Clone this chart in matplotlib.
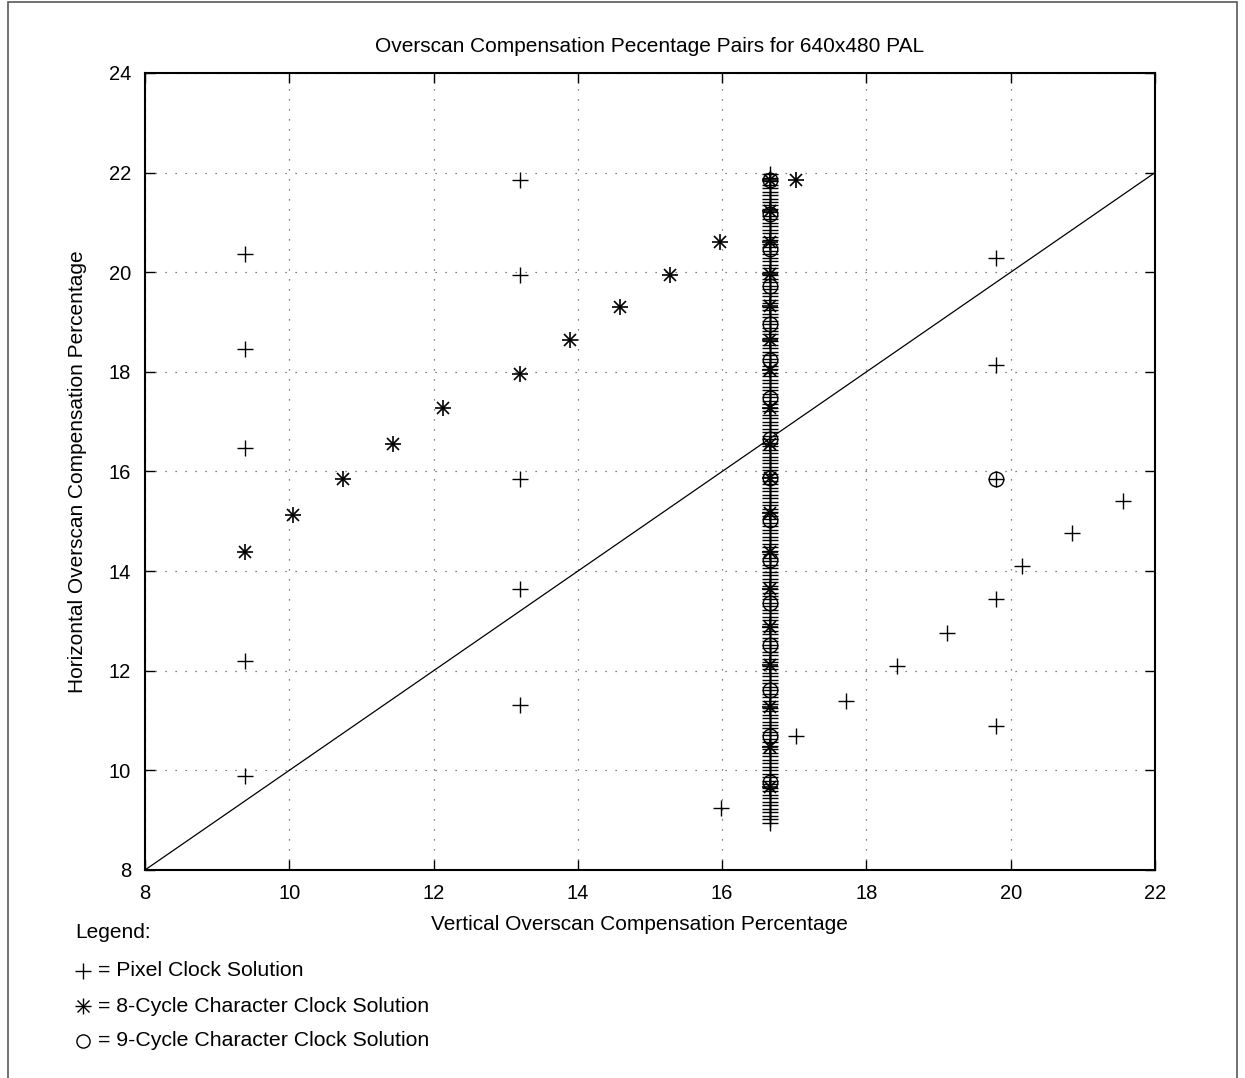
import matplotlib.pyplot as plt
from matplotlib.lines import Line2D
from matplotlib.patches import Rectangle

plt.rcParams['font.family'] = ['Liberation Sans', 'DejaVu Sans']

# pixel clock solutions (vertical %, horizontal %)
pix_x = [9.38, 9.38, 9.38, 9.38, 9.38,
         13.2, 13.2, 13.2, 13.2, 13.2,
         19.8, 19.8, 19.8, 19.8, 19.8,
         15.99, 17.03, 17.72, 18.42, 19.11, 20.15, 20.85, 21.55]
pix_y = [20.36, 18.46, 16.47, 12.19, 9.88,
         21.85, 19.94, 15.85, 13.64, 11.31,
         20.29, 18.13, 15.85, 13.44, 10.89,
         9.25, 10.69, 11.40, 12.10, 12.76, 14.11, 14.76, 15.40]

# pixel clock column at 16.67 % vertical
col_x = 16.67
col_pix_y = [
    8.95, 9.02, 9.09, 9.16, 9.23, 9.30, 9.37, 9.44, 9.51, 9.58,
    9.65, 9.72, 9.79, 9.86, 9.93, 10.00, 10.07, 10.14, 10.21, 10.28,
    10.35, 10.42, 10.49, 10.56, 10.63, 10.70, 10.77, 10.84, 10.91, 10.98,
    11.05, 11.12, 11.19, 11.26, 11.33, 11.40, 11.47, 11.54, 11.61, 11.68,
    11.75, 11.82, 11.89, 11.96, 12.03, 12.10, 12.17, 12.24, 12.31, 12.38,
    12.45, 12.52, 12.59, 12.66, 12.73, 12.80, 12.87, 12.94, 13.01, 13.08,
    13.15, 13.22, 13.29, 13.36, 13.43, 13.50, 13.57, 13.64, 13.71, 13.78,
    13.85, 13.92, 13.99, 14.06, 14.13, 14.20, 14.27, 14.34, 14.41, 14.48,
    14.55, 14.62, 14.69, 14.76, 14.83, 14.90, 14.97, 15.04, 15.11, 15.18,
    15.25, 15.32, 15.39, 15.46, 15.53, 15.60, 15.67, 15.74, 15.81, 15.88,
    15.95, 16.02, 16.09, 16.16, 16.23, 16.30, 16.37, 16.44, 16.51, 16.58,
    16.65, 16.72, 16.79, 16.86, 16.93, 17.00, 17.07, 17.14, 17.21, 17.28,
    17.35, 17.42, 17.49, 17.56, 17.63, 17.70, 17.77, 17.84, 17.91, 17.98,
    18.05, 18.12, 18.19, 18.26, 18.33, 18.40, 18.47, 18.54, 18.61, 18.68,
    18.75, 18.82, 18.89, 18.96, 19.03, 19.10, 19.17, 19.24, 19.31, 19.38,
    19.45, 19.52, 19.59, 19.66, 19.73, 19.80, 19.87, 19.94, 20.01, 20.08,
    20.15, 20.22, 20.29, 20.36, 20.43, 20.50, 20.57, 20.64, 20.71, 20.78,
    20.85, 20.92, 20.99, 21.06, 21.13, 21.20, 21.27, 21.34, 21.41, 21.48,
    21.55, 21.62, 21.69, 21.76, 21.83, 21.90, 21.97]

# 8-cycle character clock solutions
c8_x = [9.38, 10.05, 10.75, 11.44, 12.13, 13.2, 13.89, 14.58, 15.28, 15.97, 17.03]
c8_y = [14.38, 15.12, 15.85, 16.56, 17.27, 17.96, 18.63, 19.30, 19.95, 20.60, 21.85]
col_c8_y = [21.85, 21.23, 20.60, 19.97, 19.33, 18.63, 18.03, 17.28, 16.56,
            15.86, 15.16, 14.38, 13.65, 12.87, 12.11, 11.27, 10.47, 9.66]

# 9-cycle character clock solutions
c9_x = [19.8]
c9_y = [15.85]
col_c9_y = [21.85, 21.17, 20.47, 19.73, 18.97, 18.23, 17.48, 16.66,
            15.86, 15.02, 14.22, 13.35, 12.51, 11.61, 10.69, 9.77]

diag = [8, 22]

fig = plt.figure(figsize=(12.45, 10.78), dpi=100)
ax = fig.add_axes([0.1165, 0.193, 0.8112, 0.7393])

ms = 11      # '+' size
msx = 8.5    # 'x' part of the asterisk
mso = 10.5   # circle
ax.plot(diag, diag, color='black', lw=0.9)
ax.plot(pix_x, pix_y, ls='none', marker='+', ms=ms, mew=1.0, color='black')
ax.plot([col_x] * len(col_pix_y), col_pix_y, ls='none', marker='+', ms=ms, mew=1.0, color='black')
for m, s in [('+', ms), ('x', msx)]:
    ax.plot(c8_x, c8_y, ls='none', marker=m, ms=s, mew=1.2, color='black')
    ax.plot([col_x] * len(col_c8_y), col_c8_y, ls='none', marker=m, ms=s, mew=1.2, color='black')
ax.plot(c9_x, c9_y, ls='none', marker='o', ms=mso, mew=1.0, mfc='none', color='black')
ax.plot([col_x] * len(col_c9_y), col_c9_y, ls='none', marker='o', ms=mso, mew=1.0,
        mfc='none', color='black')

ax.set_xlim(8, 22)
ax.set_ylim(8, 24)
ax.set_xticks(range(8, 23, 2))
ax.set_yticks(range(8, 25, 2))
ax.grid(True, ls=(0, (1, 7)), color='0.35', lw=0.9)
ax.tick_params(direction='in', top=True, right=True, length=7, width=1, labelsize=14.5, pad=10)
for s in ax.spines.values():
    s.set_linewidth(1.5)

ax.set_title('Overscan Compensation Pecentage Pairs for 640x480 PAL', fontsize=15, pad=15)
ax.set_xlabel('Vertical Overscan Compensation Percentage', fontsize=15)
ax.set_ylabel('Horizontal Overscan Compensation Percentage', fontsize=15)
ax.xaxis.set_label_coords(0.49, -0.056)
ax.yaxis.set_label_coords(-0.057, 0.5)

# legend drawn below the plot
W, H = 1245, 1078
fig.text(75 / W, 1 - 933 / H, 'Legend:', fontsize=15, va='center')
rows = [(971, '= Pixel Clock Solution', [('+', ms)]),
        (1006, '= 8-Cycle Character Clock Solution', [('+', ms), ('x', msx)]),
        (1041, '= 9-Cycle Character Clock Solution', [('o', 9.5)])]
for py, label, marks in rows:
    for m, s in marks:
        fig.add_artist(Line2D([83 / W], [1 - py / H], marker=m, ls='none', color='black',
                              ms=s, mew=1.0, mfc='none', transform=fig.transFigure))
    fig.text(98 / W, 1 - py / H, label, fontsize=15.3, va='center')

# outer frame
fig.add_artist(Rectangle((8 / W, -0.05), (1237 - 8) / W, 1 - 2 / H + 0.05,
                         transform=fig.transFigure, fill=False, edgecolor='0.35', lw=1.2))

plt.savefig('out.png', dpi=100)
